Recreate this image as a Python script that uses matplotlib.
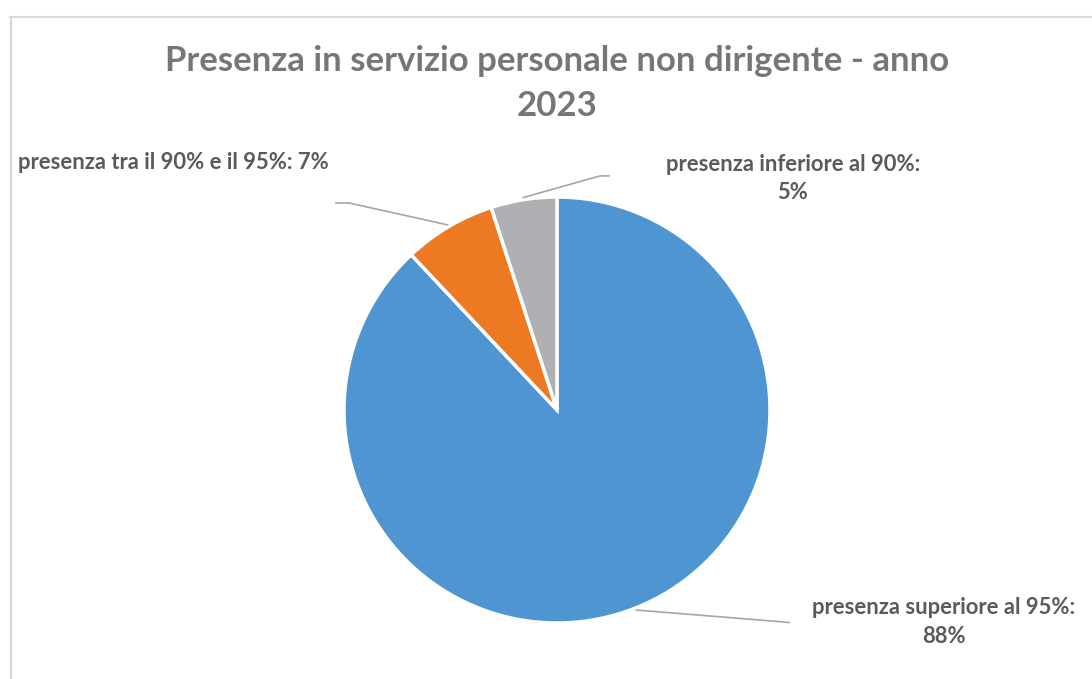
import numpy as np
import matplotlib.pyplot as plt
from matplotlib.lines import Line2D

# Dati
categorie = ['presenza superiore al 95%', 'presenza tra il 90% e il 95%', 'presenza inferiore al 90%']
valori = [88, 7, 5]
colori = ['#4E95D2', '#ED7A23', '#AFB0B3']
titolo = 'Presenza in servizio personale non dirigente - anno\n2023'

plt.rcParams['font.family'] = ['Lato', 'DejaVu Sans']

W, H = 1092, 679
fig = plt.figure(figsize=(W / 100, H / 100), dpi=100)

# cornice del grafico
fig.add_artist(Line2D([10 / W, 1], [1 - 16.5 / H, 1 - 16.5 / H], color='#D9D9D9', lw=1.5))
fig.add_artist(Line2D([10.5 / W, 10.5 / W], [0, 1 - 16.5 / H], color='#D9D9D9', lw=1.5))

# asse quadrato centrato sulla torta
cx, cy, r = 557, 410, 213
ax = fig.add_axes([(cx - r) / W, (H - cy - r) / H, 2 * r / W, 2 * r / H])

wedges, _ = ax.pie(valori, colors=colori, startangle=90, counterclock=False, radius=1,
                   wedgeprops=dict(edgecolor='white', linewidth=2.5))
ax.set_xlim(-1, 1)
ax.set_ylim(-1, 1)
ax.axis('off')

# etichette con linee guida
lbl_style = dict(fontsize=15.8, fontweight='bold', color='#5A5A5A', ha='center', va='center')
etichette = [f'{c}:\n{v}%' for c, v in zip(categorie, valori)]
etichette[1] = f'{categorie[1]}: {valori[1]}%'
pos_testo = [(1.817, -0.995), (-1.80, 1.16), (1.108, 1.087)]
gomiti = [((1.061, -0.995), (1.089, -0.998)),
          ((-0.977, 0.972), (-1.038, 0.972)),
          ((0.202, 1.099), (0.244, 1.099))]

for w, testo, pt, (g1, g2) in zip(wedges, etichette, pos_testo, gomiti):
    ang = np.deg2rad((w.theta1 + w.theta2) / 2)
    x0, y0 = 1.01 * np.cos(ang), 1.01 * np.sin(ang)
    ax.plot([x0, g1[0], g2[0]], [y0, g1[1], g2[1]], color='#A6A6A6', lw=1.2,
            clip_on=False)
    ax.text(pt[0], pt[1], testo, linespacing=1.45, clip_on=False, **lbl_style)

ax.text(0, 1.535, titolo, fontsize=25, fontweight='bold', color='#767676',
        ha='center', va='center', linespacing=1.5, clip_on=False)

fig.savefig('out.png', dpi=100)
